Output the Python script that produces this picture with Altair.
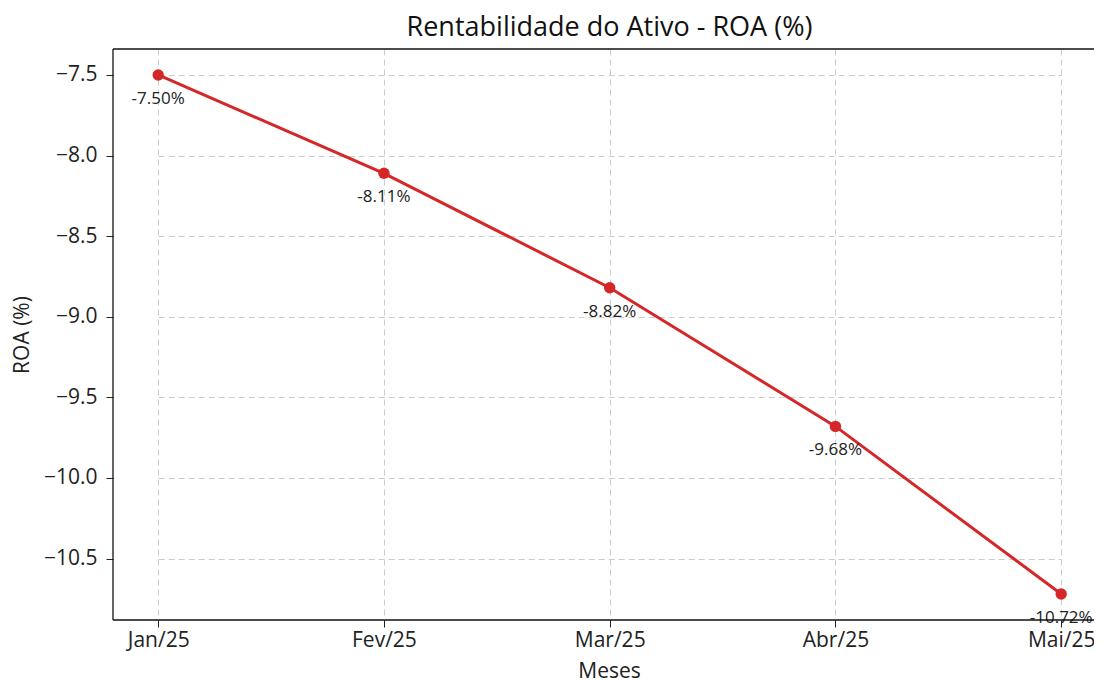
import altair as alt
import pandas as pd

meses = ["Jan/25", "Fev/25", "Mar/25", "Abr/25", "Mai/25"]
roa = [-7.50, -8.11, -8.82, -9.68, -10.72]
rotulos = ["-7.50%", "-8.11%", "-8.82%", "-9.68%", "-10.72%"]

df = pd.DataFrame({"Mes": meses, "ROA": roa, "Rotulo": rotulos})

FONT = "Open Sans"
RED = "#d62728"
INK = "#222222"
W, H = 981, 571

x = alt.X("Mes:N", sort=meses, scale=alt.Scale(type="point", range=[45.2, 948.2], padding=0),
          axis=alt.Axis(title="Meses", labelAngle=0, labelFontSize=21, titleFontSize=21,
                        titleFontWeight="normal", labelColor=INK, titleColor=INK,
                        tickColor=INK, tickSize=7, labelPadding=2, titlePadding=10,
                        titleX=496,
                        grid=True, gridDash=[6, 4], gridColor="#cccccc", domain=False))
y = alt.Y("ROA:Q", scale=alt.Scale(domain=[-10.881, -7.339], nice=False, zero=False),
          axis=alt.Axis(title="ROA (%)", values=[-7.5, -8.0, -8.5, -9.0, -9.5, -10.0, -10.5],
                        format=".1f", labelFontSize=21, titleFontSize=21,
                        titleFontWeight="normal", labelColor=INK, titleColor=INK,
                        tickColor=INK, tickSize=7, labelPadding=9, titlePadding=11,
                        grid=True, gridDash=[6, 4], gridColor="#cccccc", domain=False))

base = alt.Chart(df).encode(x=x, y=y)

line = base.mark_line(color=RED, strokeWidth=3)
pts = base.mark_point(color=RED, filled=True, opacity=1, size=130)
txt = base.mark_text(dy=24, fontSize=17, color=INK, font=FONT).encode(text="Rotulo:N")

frame_df = pd.DataFrame({"k": [0]})
frame = alt.Chart(frame_df)
top = frame.mark_rule(color="#111", strokeWidth=1.3).encode(
    x=alt.value(0), x2=alt.value(1000), y=alt.value(0))
bottom = frame.mark_rule(color="#111", strokeWidth=1.3).encode(
    x=alt.value(0), x2=alt.value(1000), y=alt.value(H))
left = frame.mark_rule(color="#111", strokeWidth=1.3).encode(
    x=alt.value(0), y=alt.value(0), y2=alt.value(H))

chart = alt.layer(line, pts, txt, top, bottom, left).properties(
    width=W, height=H,
    title=alt.TitleParams("Rentabilidade do Ativo - ROA (%)", fontSize=27,
                          fontWeight="normal", color="#111", font=FONT, offset=6, dx=6),
    autosize=alt.AutoSizeParams(type="none"),
    padding={"left": 105, "top": 41, "right": 0, "bottom": 64},
).configure(font=FONT, background="white").configure_view(stroke=None)

chart.save("out.html", embed_options={"renderer": "svg", "actions": False})
